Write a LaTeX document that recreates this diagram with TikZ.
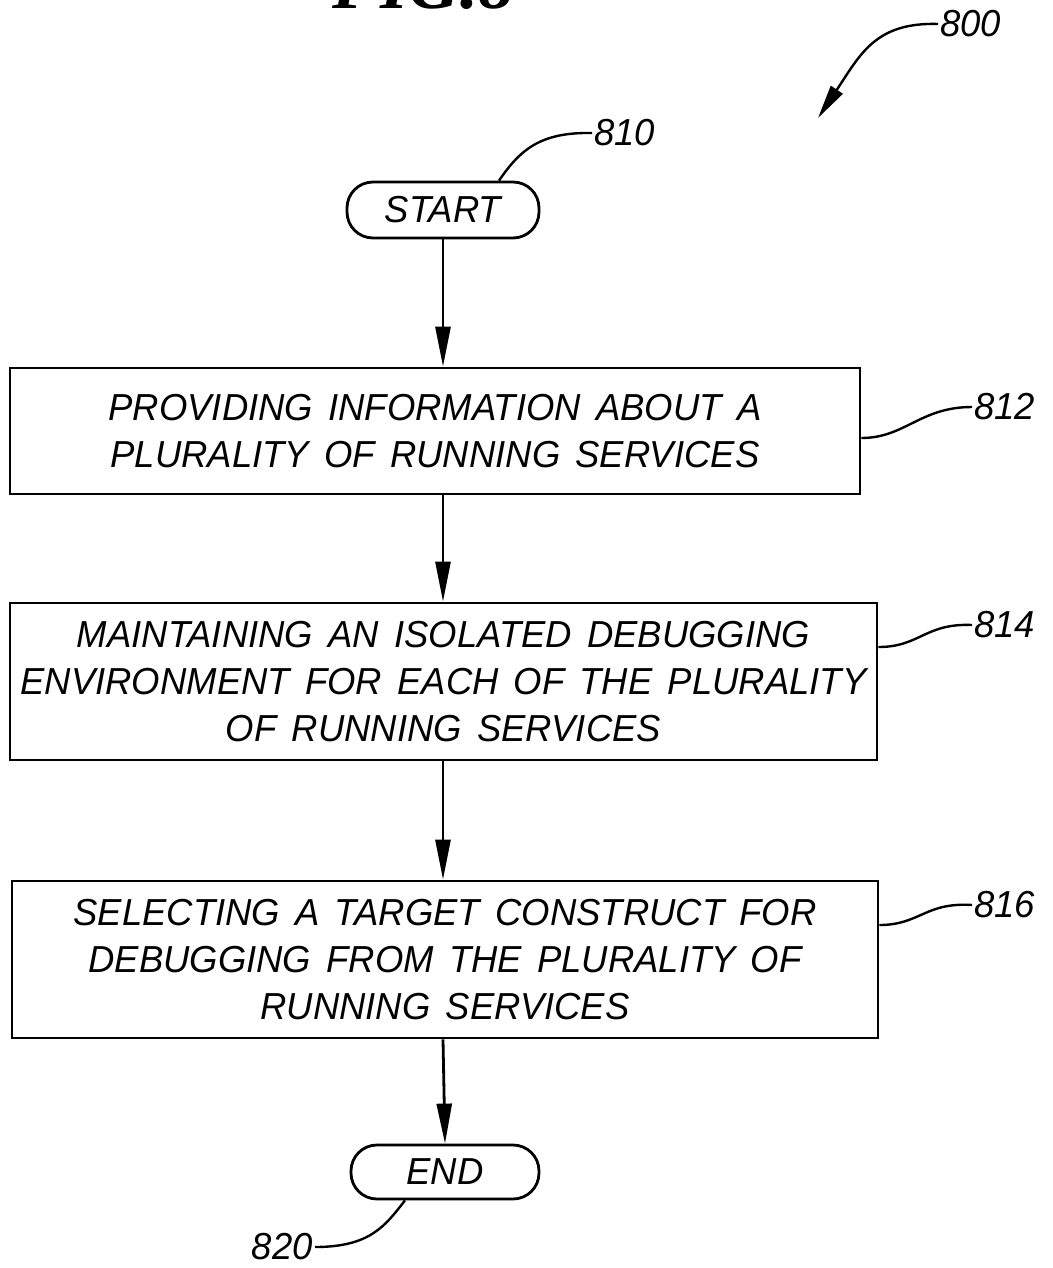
\documentclass[tikz,border=0pt]{standalone}
\usepackage{fontspec}
\setmainfont{Liberation Sans}[WordSpace=1.5,FakeStretch=0.97]
\newfontfamily\figfont{Liberation Serif}
\usetikzlibrary{arrows.meta}
\begin{document}
\begin{tikzpicture}[x=0.5pt,y=-0.5pt,
  every node/.style={font=\itshape\fontsize{18.8}{23.5}\selectfont},
  stepbox/.style={draw, line width=1.4pt, align=center, inner sep=0pt},
  term/.style={draw, line width=1.4pt, rounded corners=13pt, inner sep=0pt},
  arr/.style={line width=1.4pt, -{Triangle[length=20pt,width=7.5pt]}},
  lead/.style={line width=1.2pt},
  lbl/.style={inner sep=1pt}
]
\useasboundingbox (0,0) rectangle (1053,1268);
\node[anchor=base east, font=\figfont\bfseries\itshape\fontsize{36}{36}\selectfont] (fig) at (522,9) {FIG.8};

\node[term, minimum width=96pt, minimum height=28pt] (start) at (443,210) {START};
\node[stepbox, minimum width=425pt, minimum height=63pt] (b1) at (435,431)
  {PROVIDING INFORMATION ABOUT A\\PLURALITY OF RUNNING SERVICES};
\node[stepbox, minimum width=433.5pt, minimum height=78.5pt] (b2) at (443.5,681.5)
  {MAINTAINING AN ISOLATED DEBUGGING\\ENVIRONMENT FOR EACH OF THE PLURALITY\\OF RUNNING SERVICES};
\node[stepbox, minimum width=433pt, minimum height=78.5pt] (b3) at (445,959.5)
  {SELECTING A TARGET CONSTRUCT FOR\\DEBUGGING FROM THE PLURALITY OF\\RUNNING SERVICES};
\node[term, minimum width=94pt, minimum height=27pt] (end) at (445,1172) {END};

\draw[arr] (start.south) -- (b1.north -| start.south);
\draw[arr] (b1.south -| start.south) -- (b2.north -| start.south);
\draw[arr] (b2.south -| start.south) -- (b3.north -| start.south);
\draw[arr] (b3.south -| start.south) -- (end.north);

\node[lbl, anchor=west] (n810) at (592,133) {810};
\node[lbl, anchor=west] (n812) at (972,407) {812};
\node[lbl, anchor=west] (n814) at (972,625) {814};
\node[lbl, anchor=west] (n816) at (972,905) {816};
\node[lbl, anchor=east] (n820) at (315,1247) {820};
\node[lbl, anchor=west] (n800) at (938,24) {800};
\coordinate (t800) at (818,118);

\draw[lead] ([xshift=28pt]start.north) .. controls (520,150) and (540,132) .. (n810.west);
\draw[lead] ([yshift=-3.5pt]b1.east) .. controls (905,438) and (920,407) .. (n812.west);
\draw[lead] ([yshift=17.25pt]b2.east) .. controls (920,647) and (925,623) .. (n814.west);
\draw[lead] ([yshift=17.25pt]b3.east) .. controls (920,925) and (925,902) .. (n816.west);
\draw[lead] ([xshift=-20pt]end.south) .. controls (385,1226) and (370,1247) .. (n820.east);
\draw[lead, -{Triangle[length=17pt,width=7pt]}] (n800.west) .. controls (875,22) and (860,55) .. (t800);
\end{tikzpicture}
\end{document}
